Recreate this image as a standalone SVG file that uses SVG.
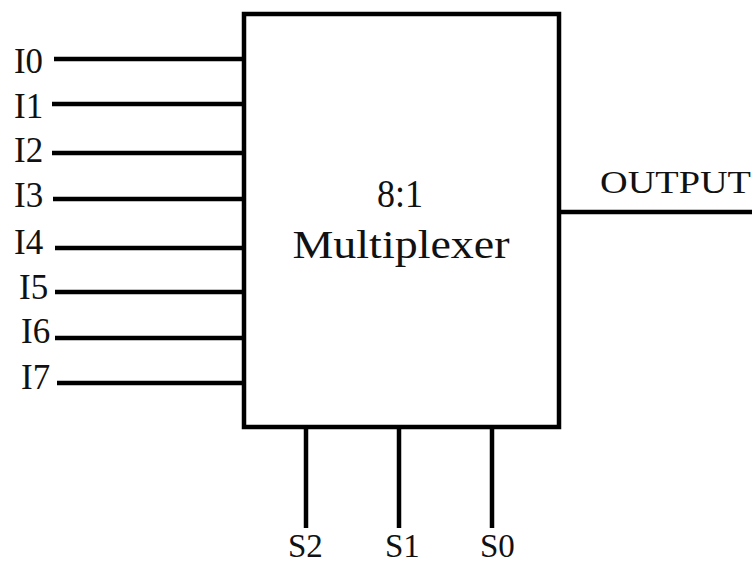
<svg xmlns="http://www.w3.org/2000/svg" width="756" height="567" viewBox="0 0 756 567">
<style>
.w{stroke:#000;stroke-width:4.5;fill:none}
.t{font-family:"Liberation Serif","Times New Roman",serif;fill:#111}
.l{font-size:35px}
.s{font-size:33px}
.c{font-size:40px;text-anchor:middle}
</style>
<rect width="756" height="567" fill="#fff"/>
<g id="mux">
<rect class="w" x="244" y="14" width="315" height="413"/>
<text class="t c" x="400" y="207" textLength="46" lengthAdjust="spacingAndGlyphs">8:1</text>
<text class="t c" x="401" y="258" textLength="217" lengthAdjust="spacingAndGlyphs">Multiplexer</text>
</g>
<g id="connectors">
<line class="w" x1="54" y1="59" x2="244" y2="59"/>
<line class="w" x1="52" y1="104" x2="244" y2="104"/>
<line class="w" x1="52" y1="153" x2="244" y2="153"/>
<line class="w" x1="53" y1="199" x2="244" y2="199"/>
<line class="w" x1="55" y1="248" x2="244" y2="248"/>
<line class="w" x1="55" y1="292" x2="244" y2="292"/>
<line class="w" x1="55" y1="338" x2="244" y2="338"/>
<line class="w" x1="57" y1="383" x2="244" y2="383"/>
<line class="w" x1="559" y1="212" x2="752" y2="212"/>
<line class="w" x1="306" y1="427" x2="306" y2="528"/>
<line class="w" x1="399" y1="427" x2="399" y2="528"/>
<line class="w" x1="492" y1="427" x2="492" y2="528"/>
</g>
<g id="labels" class="t l">
<text x="14" y="73" textLength="29" lengthAdjust="spacingAndGlyphs">I0</text>
<text x="14" y="118">I1</text>
<text x="14" y="162">I2</text>
<text x="14" y="207">I3</text>
<text x="14" y="254">I4</text>
<text x="19" y="299">I5</text>
<text x="21" y="343">I6</text>
<text x="21" y="389">I7</text>
<text x="600" y="193" font-size="32" textLength="151" lengthAdjust="spacingAndGlyphs">OUTPUT</text>
<text class="s" x="288" y="557">S2</text>
<text class="s" x="385" y="557">S1</text>
<text class="s" x="480" y="557">S0</text>
</g>
</svg>
